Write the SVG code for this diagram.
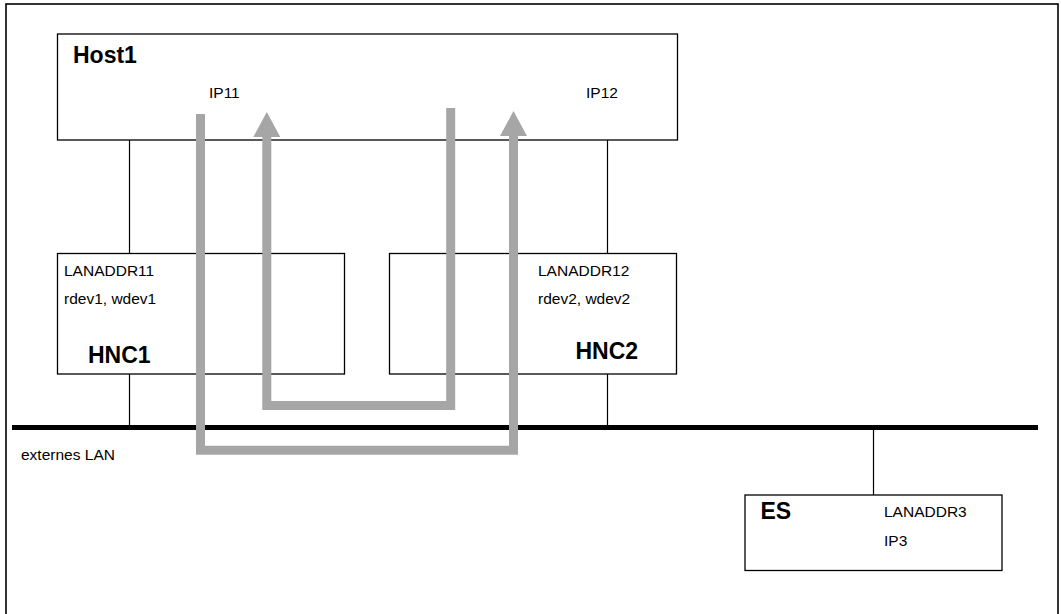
<svg xmlns="http://www.w3.org/2000/svg" width="1061" height="614" viewBox="0 0 1061 614">
<style>
.box{fill:#fff;stroke:#000;stroke-width:1.3}
.link{stroke:#000;stroke-width:1.2;fill:none}
.lan{stroke:#000;stroke-width:5;fill:none}
.flow{stroke:#a6a6a6;stroke-width:9;fill:none;stroke-linejoin:miter}
.t{font-family:"Liberation Sans",Arial,sans-serif;font-size:15.5px;fill:#000}
.b{font-family:"Liberation Sans",Arial,sans-serif;font-size:23px;font-weight:bold;fill:#000}
</style>
<defs>
<marker id="ah" markerUnits="userSpaceOnUse" markerWidth="26" markerHeight="27" viewBox="0 0 26 27" refX="0" refY="13.5" orient="auto">
<path d="M0,0 L25,13.5 L0,27 z" fill="#a6a6a6"/>
</marker>
</defs>
<rect x="6" y="4" width="1052" height="630" fill="#fff" stroke="#000" stroke-width="1.6"/>
<g id="connectors">
<line class="link" x1="129.5" y1="140" x2="129.5" y2="253.5"/>
<line class="link" x1="129.5" y1="374" x2="129.5" y2="427"/>
<line class="link" x1="607.5" y1="140" x2="607.5" y2="253.5"/>
<line class="link" x1="607.5" y1="374" x2="607.5" y2="427"/>
<line class="link" x1="873.5" y1="427" x2="873.5" y2="495"/>
</g>
<g id="lan">
<line class="lan" x1="12" y1="427.5" x2="1038" y2="427.5"/>
<text class="t" x="21" y="460">externes LAN</text>
</g>
<g id="host1">
<rect class="box" x="57.5" y="34" width="620" height="106"/>
<text class="b" x="73" y="62.5">Host1</text>
<text class="t" x="209" y="98">IP11</text>
<text class="t" x="586" y="98">IP12</text>
</g>
<g id="hnc1">
<rect class="box" x="57.5" y="253.5" width="287" height="120.5"/>
<text class="t" x="64" y="275.5">LANADDR11</text>
<text class="t" x="64" y="304">rdev1, wdev1</text>
<text class="b" x="88" y="363">HNC1</text>
</g>
<g id="hnc2">
<rect class="box" x="389.5" y="253.5" width="287" height="120.5"/>
<text class="t" x="538" y="275.5">LANADDR12</text>
<text class="t" x="538" y="304">rdev2, wdev2</text>
<text class="b" x="575.5" y="359">HNC2</text>
</g>
<g id="es">
<rect class="box" x="745" y="495" width="257" height="75.5"/>
<text class="b" x="760.5" y="519">ES</text>
<text class="t" x="884" y="517">LANADDR3</text>
<text class="t" x="884" y="545.5">IP3</text>
</g>
<g id="flows">
<path class="flow" d="M200.5,114 V450.3 H513.5 V136" marker-end="url(#ah)"/>
<path class="flow" d="M450.7,108 V405.5 H266.8 V137" marker-end="url(#ah)"/>
</g>
</svg>
